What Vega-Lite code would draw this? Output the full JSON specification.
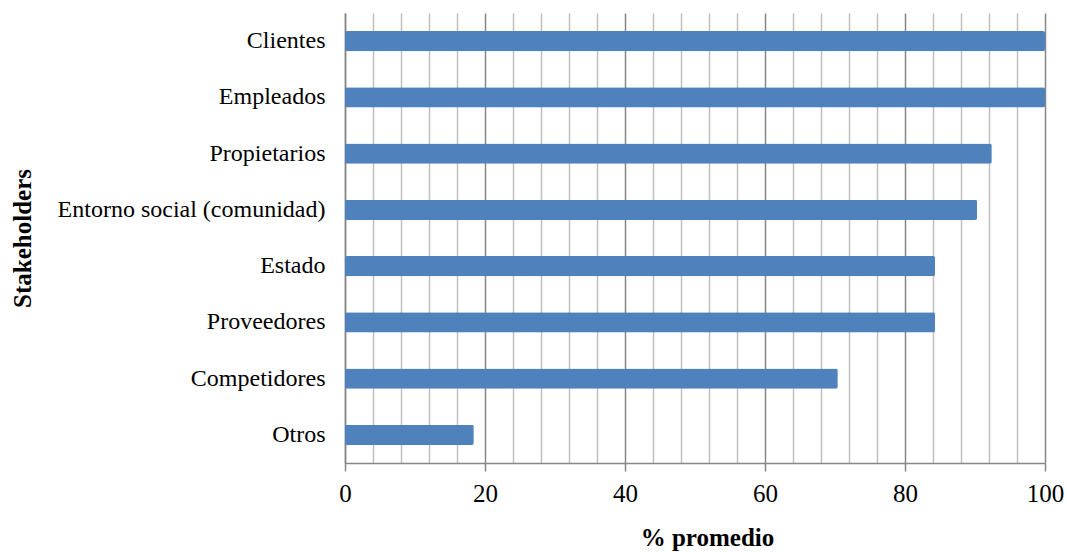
{
  "$schema": "https://vega.github.io/schema/vega-lite/v6.json",
  "width": 700,
  "height": 450,
  "autosize": {"type": "none"},
  "padding": {"left": 345, "top": 13, "right": 22, "bottom": 89},
  "background": "white",
  "config": {"view": {"stroke": null}, "font": "Liberation Serif"},
  "data": {
    "values": [
      {"stakeholder": "Clientes", "pct": 100},
      {"stakeholder": "Empleados", "pct": 100},
      {"stakeholder": "Propietarios", "pct": 92.4},
      {"stakeholder": "Entorno social (comunidad)", "pct": 90.3},
      {"stakeholder": "Estado", "pct": 84.3},
      {"stakeholder": "Proveedores", "pct": 84.3},
      {"stakeholder": "Competidores", "pct": 70.4},
      {"stakeholder": "Otros", "pct": 18.4}
    ]
  },
  "mark": {"type": "bar", "color": "#4F81BD", "cornerRadius": 2},
  "encoding": {
    "y": {
      "field": "stakeholder",
      "type": "nominal",
      "sort": null,
      "scale": {"paddingInner": 0.64, "paddingOuter": 0.32},
      "axis": {
        "title": "Stakeholders",
        "titleFont": "Liberation Serif",
        "titleFontSize": 25,
        "titleFontWeight": "bold",
        "titleColor": "#000000",
        "titleX": -323,
        "titleY": 225,
        "titleAngle": -90,
        "titleAlign": "center",
        "titleBaseline": "middle",
        "labelFont": "Liberation Serif",
        "labelFontSize": 24,
        "labelColor": "#000000",
        "labelPadding": 20,
        "labelLimit": 0,
        "ticks": false,
        "grid": false,
        "domainColor": "#868686",
        "domainWidth": 1.5
      }
    },
    "x": {
      "field": "pct",
      "type": "quantitative",
      "scale": {"domain": [0, 100], "nice": false},
      "axis": {
        "title": "% promedio",
        "titleFont": "Liberation Serif",
        "titleFontSize": 25,
        "titleFontWeight": "bold",
        "titleColor": "#000000",
        "titleX": 362,
        "titleY": 74,
        "titleBaseline": "middle",
        "values": [0, 4, 8, 12, 16, 20, 24, 28, 32, 36, 40, 44, 48, 52, 56, 60, 64, 68, 72, 76, 80, 84, 88, 92, 96, 100],
        "labelExpr": "datum.value % 20 === 0 ? datum.label : ''",
        "labelFont": "Liberation Serif",
        "labelFontSize": 25,
        "labelColor": "#000000",
        "labelPadding": 10,
        "labelFlush": false,
        "labelOverlap": false,
        "grid": true,
        "gridColor": {"condition": {"test": "datum.value % 20 === 0", "value": "#868686"}, "value": "#C0C0C0"},
        "gridWidth": 1.5,
        "tickSize": 8,
        "tickWidth": 1.5,
        "tickColor": "#868686",
        "tickOpacity": {"condition": {"test": "datum.value % 20 === 0", "value": 1}, "value": 0},
        "domainColor": "#868686",
        "domainWidth": 1.5
      }
    }
  }
}
